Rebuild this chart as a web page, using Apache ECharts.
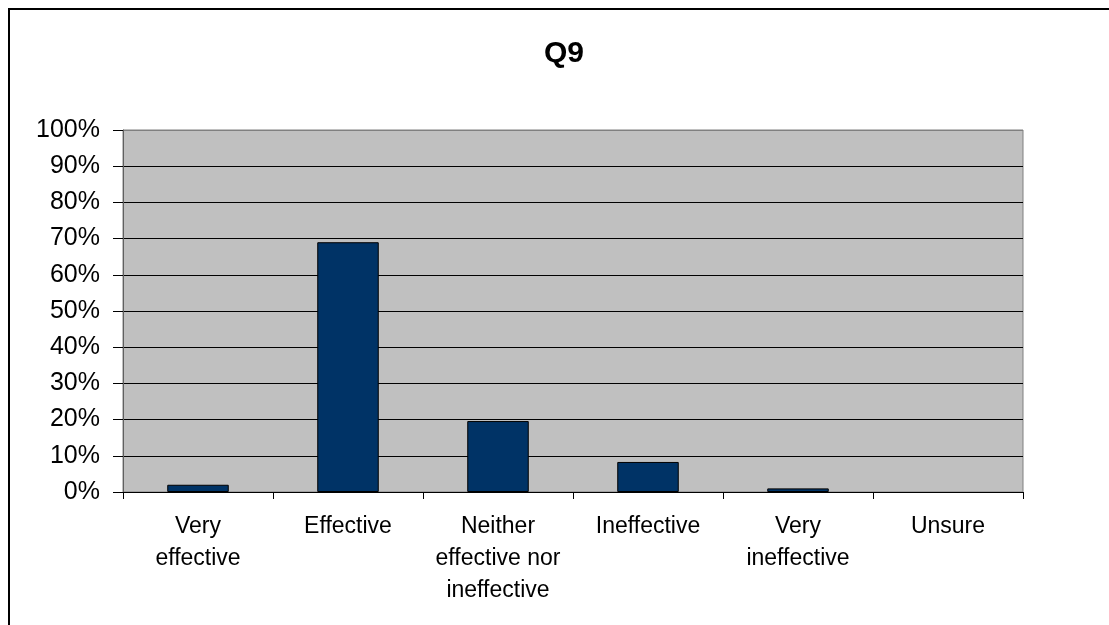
<!DOCTYPE html>
<html>
<head>
<meta charset="utf-8">
<script src="https://cdn.jsdelivr.net/npm/echarts@6/dist/echarts.min.js"></script>
<style>
  html, body { margin: 0; padding: 0; background: #fff; }
  #chart { width: 1109px; height: 625px; }
</style>
</head>
<body>
<div id="chart"></div>
<script>
// Survey responses for Q9, share of respondents per answer (percent)
const categories = [
  'Very\neffective',
  'Effective',
  'Neither\neffective nor\nineffective',
  'Ineffective',
  'Very\nineffective',
  'Unsure'
];
const shares = [2, 69, 19.6, 8.3, 1, 0];
const yTicks = [0, 10, 20, 30, 40, 50, 60, 70, 80, 90, 100];

const font = 'Arial, "Liberation Sans", sans-serif';

// every gridline black except the top one, which sits on the gray plot border
const splitColors = yTicks.map((t, i) => (i === yTicks.length - 1 ? '#808080' : '#000'));

// empty answers get no outline, so a zero share leaves no sliver on the axis
const barData = shares.map(v => (v === 0 ? { value: v, itemStyle: { borderWidth: 0 } } : v));

const chart = echarts.init(document.getElementById('chart'));
chart.setOption({
  animation: false,
  backgroundColor: '#fff',
  title: {
    text: 'Q9',
    left: 539,
    top: 34,
    textStyle: { fontFamily: font, fontSize: 30, fontWeight: 'bold', color: '#000' }
  },
  graphic: [{
    type: 'rect',
    shape: { x: 9, y: 9, width: 1300, height: 800 },
    style: { fill: null, stroke: '#000', lineWidth: 2 },
    silent: true
  }],
  grid: {
    left: 123, right: 86, top: 130, bottom: 133,
    show: true,
    backgroundColor: '#C0C0C0',
    borderColor: '#808080',
    borderWidth: 1
  },
  xAxis: {
    type: 'category',
    data: categories,
    axisLine: { show: true, lineStyle: { color: '#000', width: 1 } },
    axisTick: { show: true, length: 7, lineStyle: { color: '#000' } },
    axisLabel: {
      color: '#000', fontFamily: font, fontSize: 23, lineHeight: 32,
      margin: 19, interval: 0, align: 'center'
    },
    splitLine: { show: false }
  },
  yAxis: {
    type: 'value',
    min: yTicks[0],
    max: yTicks[yTicks.length - 1],
    interval: 10,
    axisLine: { show: true, lineStyle: { color: '#606060', width: 1 } },
    axisTick: { show: true, length: 10, inside: false, lineStyle: { color: '#000' } },
    axisLabel: {
      color: '#000', fontFamily: font, fontSize: 25,
      margin: 23,
      formatter: '{value}%'
    },
    splitLine: { show: true, lineStyle: { color: splitColors, width: 1 } }
  },
  series: [{
    type: 'bar',
    data: barData,
    barWidth: '41%',
    itemStyle: { color: '#003366', borderColor: '#000', borderWidth: 1 }
  }]
});
</script>
</body>
</html>
